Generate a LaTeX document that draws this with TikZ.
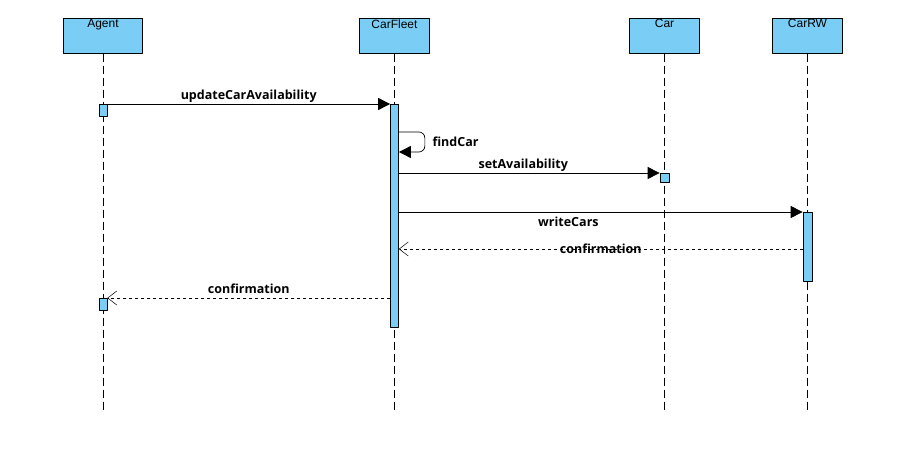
\documentclass[tikz,border=0pt]{standalone}
\usepackage{fontspec}
\setmainfont{Liberation Sans}
\newfontfamily\msgfont{Open Sans}
\usetikzlibrary{arrows.meta}
\definecolor{lifeblue}{RGB}{122,206,245}
\begin{document}
\begin{tikzpicture}[x=1pt,y=-1pt,line join=round,line width=0.7pt,font=\fontsize{12}{14}\selectfont]
	\tikzset{
		box/.style={draw,fill=lifeblue,minimum width=70pt,minimum height=35pt,anchor=north,inner sep=0pt,
			label={[anchor=north,inner sep=1pt]north:#1}},
		act/.style={draw,fill=lifeblue,minimum width=8pt,inner sep=0pt,anchor=north},
		life/.style={dash pattern=on 8pt off 4pt},
		msg/.style={-{Triangle[length=12pt,width=12pt]}},
		ret/.style={dashed,-{Straight Barb[length=9pt,width=14pt,line width=0.5pt]}},
		lbl/.style={font=\msgfont\bfseries\fontsize{12.5}{14}\selectfont,text depth=0pt}
	}
	\useasboundingbox (0,0) rectangle (919,449);
	% heads
	\node[box=Agent,minimum width=79pt] (agent) at (103,18) {};
	\node[box=CarFleet] (fleet) at (394.5,18) {};
	\node[box=Car] (car) at (664.5,18) {};
	\node[box=CarRW] (carrw) at (807.5,18) {};
	% lifelines
	\foreach \n/\x in {agent/103,fleet/394.5,car/664.5,carrw/807.5}{
			\coordinate (\n end) at (\x,413);
			\draw[life] (\n.south) -- (\n end);
		}
	% activations
	\node[act,minimum height=12pt] (ag1) at (103,104) {};
	\node[act,minimum height=223pt] (fl) at (394.5,104) {};
	\node[act,minimum width=9pt,minimum height=9pt] (ca) at (664.5,173) {};
	\node[act,minimum width=9pt,minimum height=69pt] (rw) at (807.5,212) {};
	\node[act,minimum height=12pt] (ag2) at (103,298) {};
	% messages
	\draw[msg] (ag1.north east) -- (fl.north west) node[lbl,midway,above=1pt] {updateCarAvailability};
	\draw[msg,rounded corners=6pt] ([yshift=-28pt]fl.north east) -| ++(26pt,-20pt) node[lbl,pos=0.75,right=4pt] {findCar} -- ([yshift=-48pt]fl.north east);
	\draw[msg] (fl.east |- ca.north west) -- (ca.north west) node[lbl,midway,above=1pt,xshift=-6pt] {setAvailability};
	\draw[msg] (fl.east |- rw.north west) -- (rw.north west) node[lbl,pos=0.42,below=1pt] {writeCars};
	\coordinate (r1) at ([yshift=-37pt]rw.north west);
	\draw[ret] (r1) -- (fl.east |- r1) node[lbl,midway] {confirmation};
	\coordinate (r2) at (fl.west |- ag2.north);
	\draw[ret] (r2) -- (ag2.north east) node[lbl,midway,above=1pt] {confirmation};
\end{tikzpicture}
\end{document}
